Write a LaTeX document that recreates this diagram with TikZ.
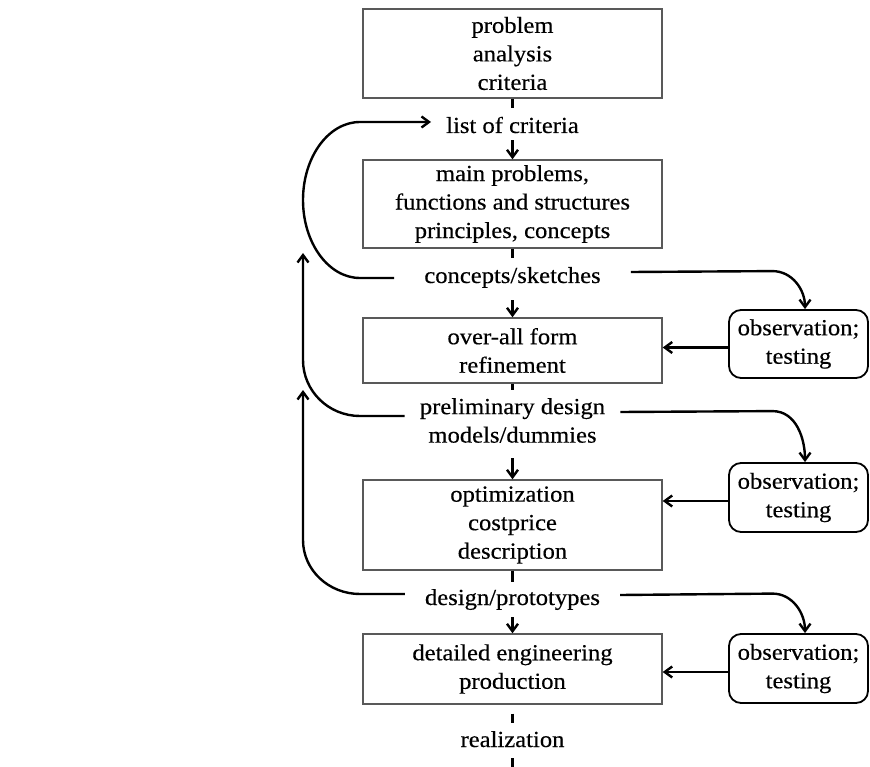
\documentclass[tikz,border=0pt]{standalone}
\usepackage{fontspec}
\setmainfont{Liberation Serif}[FakeStretch=1.07,FakeBold=0.4]
\usetikzlibrary{arrows.meta}
\begin{document}
\begin{tikzpicture}[x=1pt,y=-1pt,
  font=\fontsize{23}{28.5}\selectfont,
  stagebox/.style={draw=black!65, line width=1.4pt, minimum width=299pt, align=center, inner sep=0pt},
  obsbox/.style={draw=black, line width=1.8pt, rounded corners=12pt, minimum width=139pt, align=center, inner sep=0pt},
  lab/.style={inner ysep=0pt, text height=15pt, text depth=5pt},
  mlab/.style={inner ysep=0pt, align=center},
  flow/.style={line width=2.4pt},
  arr/.style={line width=2.4pt, -{Straight Barb[length=7.5pt,width=11pt]}},
]
\useasboundingbox (0,0) rectangle (870,767);
% main column
\node[stagebox, minimum height=89pt] (top) at (512.5,53.5) {problem\\analysis\\criteria};
\node[lab, inner xsep=15pt] (lc) at (512.5,128) {list of criteria};
\node[stagebox, minimum height=88pt] (main) at (512.5,204) {main problems,\\functions and structures\\principles, concepts};
\node[lab, inner xsep=30pt] (cs) at (512.5,278) {concepts/sketches};
\node[stagebox, minimum height=65pt] (over) at (512.5,350.5) {over-all form\\refinement};
\node[mlab, inner xsep=15pt] (pd) at (512.5,420.5) {preliminary design\\models/dummies};
\node[stagebox, minimum height=90pt] (opt) at (512.5,525) {optimization\\costprice\\description};
\node[lab, inner xsep=20pt] (dp) at (512.5,600) {design/prototypes};
\node[stagebox, minimum height=70pt] (det) at (512.5,669) {detailed engineering\\production};
\node[lab] (real) at (512.5,742) {realization};
\coordinate (bottom) at (512.5,767);
% observation boxes
\node[obsbox, minimum height=68pt] (ob1) at (798.5,344) {observation;\\testing};
\node[obsbox, minimum height=69pt] (ob2) at (798.5,497.5) {observation;\\testing};
\node[obsbox, minimum height=69pt] (ob3) at (798.5,668.5) {observation;\\testing};
\coordinate (tip2) at (303,253);
\coordinate (tip3) at (303,390);
% vertical flow
\draw[flow, shorten >=10pt] (top.south) -- (lc.north);
\draw[arr, shorten <=2pt] (lc.south) -- (main.north);
\draw[flow, shorten >=10pt] (main.south) -- (cs.north);
\draw[arr, shorten <=12pt] (cs.south) -- (over.north);
\draw[flow, shorten >=8pt] (over.south) -- (pd.north);
\draw[arr, shorten <=15pt] (pd.south) -- (opt.north);
\draw[flow, shorten >=8pt] (opt.south) -- (dp.north);
\draw[arr, shorten <=7pt] (dp.south) -- (det.north);
\draw[flow, shorten <=9pt, shorten >=9pt] (det.south) -- (real.north);
\draw[flow, shorten <=6pt] (real.south) -- (bottom);
% feedback loops on the left
\draw[arr] (cs.west) -- (360,278) .. controls (328.5,278) and (303,243) .. (303,200) .. controls (303,157) and (328.5,122) .. (360,122) -- ([yshift=6pt]lc.west);
\draw[arr] ([yshift=4.5pt]pd.west) -- (360,416) .. controls (328.5,416) and (303,391) .. (303,360) -- (tip2);
\draw[arr] ([yshift=6pt]dp.west) -- (360,594) .. controls (328.5,594) and (303,570) .. (303,540) -- (tip3);
% to observation
\draw[arr] ([yshift=6pt]cs.east) -- ([xshift=-26pt,yshift=38pt]ob1.north) to[out=0,in=90] ([xshift=6.5pt]ob1.north);
\draw[arr] ([yshift=8.5pt]pd.east) -- ([xshift=-26pt,yshift=51pt]ob2.north) to[out=0,in=90] ([xshift=6.5pt]ob2.north);
\draw[arr] ([yshift=5pt]dp.east) -- ([xshift=-26pt,yshift=39.5pt]ob3.north) to[out=0,in=90] ([xshift=6.5pt]ob3.north);
% from observation back
\path (ob1.west) ++(0,3.5) coordinate (o1);
\path (ob2.west) ++(0,3.5) coordinate (o2);
\path (ob3.west) ++(0,3.5) coordinate (o3);
\draw[arr] (o1) -- (o1 -| over.east);
\draw[arr] (o2) -- (o2 -| opt.east);
\draw[arr] (o3) -- (o3 -| det.east);
\end{tikzpicture}
\end{document}
